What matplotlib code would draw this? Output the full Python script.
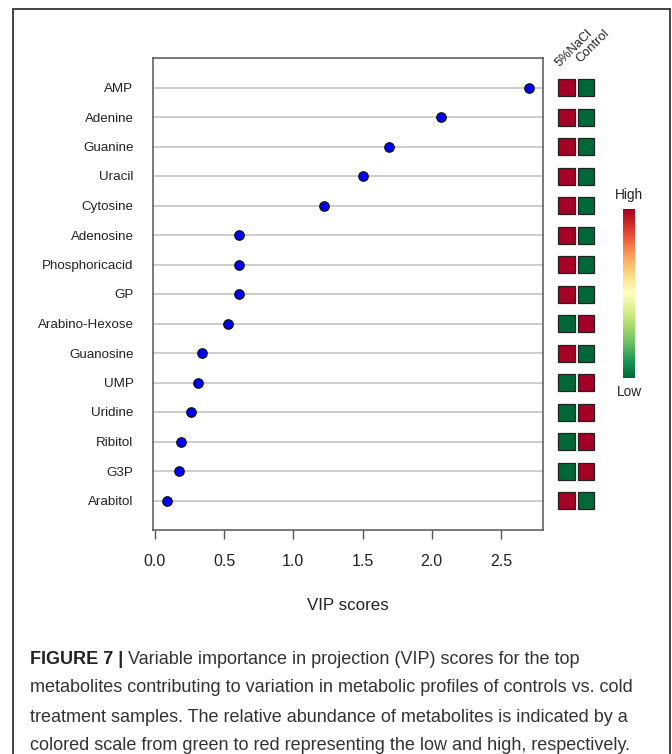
import numpy as np
import matplotlib
matplotlib.use('Agg')
import matplotlib.pyplot as plt
from matplotlib.patches import Rectangle

plt.rcParams['font.family'] = ['Liberation Sans', 'DejaVu Sans']

# VIP scores, top metabolite first
metabolites = ['AMP', 'Adenine', 'Guanine', 'Uracil', 'Cytosine', 'Adenosine',
               'Phosphoricacid', 'GP', 'Arabino-Hexose', 'Guanosine', 'UMP',
               'Uridine', 'Ribitol', 'G3P', 'Arabitol']
vip = [2.70, 2.07, 1.69, 1.50, 1.22, 0.61, 0.61, 0.61, 0.53, 0.34, 0.31,
       0.26, 0.19, 0.17, 0.09]

# relative abundance (1 = high, 0 = low) per group
groups = ['5%NaCl', 'Control']
nacl = [1, 1, 1, 1, 1, 1, 1, 1, 0, 1, 0, 0, 0, 0, 1]
control = [0, 0, 0, 0, 0, 0, 0, 0, 1, 0, 1, 1, 1, 1, 0]

xticks = [0.0, 0.5, 1.0, 1.5, 2.0, 2.5]
caption_bold = 'FIGURE 7 |'
caption_lines = [
    ' Variable importance in projection (VIP) scores for the top',
    'metabolites contributing to variation in metabolic profiles of controls vs. cold',
    'treatment samples. The relative abundance of metabolites is indicated by a',
    'colored scale from green to red representing the low and high, respectively.',
]

W, H = 672, 754
fig = plt.figure(figsize=(W / 100, H / 100), dpi=100)


def px_axes(x0, y0, x1, y1):
    # axes placed by pixel box (top-left origin)
    return fig.add_axes([x0 / W, 1 - y1 / H, (x1 - x0) / W, (y1 - y0) / H])


def px_text(x, y, s, **kw):
    return fig.text(x / W, 1 - y / H, s, **kw)


cmap = plt.get_cmap('RdYlGn_r')
n = len(metabolites)
rows = np.arange(1, n + 1)

# dot plot
ax = px_axes(153, 58, 543, 530)
lo, hi = min(vip), max(vip)
pad = 0.04 * (hi - lo)
ax.set_xlim(lo - pad, hi + pad)
ax.set_ylim(n + 1, 0)
for r in rows:
    ax.axhline(r, color='#c8c8c8', lw=1.3, zorder=1)
ax.plot(vip, rows, 'o', ms=6.8, mfc='#0000ff', mec='#111111', mew=0.9, zorder=3)
ax.set_yticks(rows)
ax.set_yticklabels(metabolites, fontsize=9.6, color='#222222')
ax.tick_params(axis='y', length=0, pad=14)
ax.set_xticks(xticks)
ax.set_xticklabels(['%.1f' % t for t in xticks], fontsize=11.5, color='#222222')
ax.tick_params(axis='x', length=6.5, width=1, color='#555555', pad=11)
for s in ax.spines.values():
    s.set_color('#555555')
    s.set_linewidth(1.1)
px_text(348, 606, 'VIP scores', fontsize=12.2, ha='center', va='center',
        color='#222222')

# abundance squares
hm = px_axes(557, 58, 595.6, 530)
hm.set_xlim(0, 2)
hm.set_ylim(n + 1, 0)
hm.axis('off')
sw, sh = 0.86, 17 / 29.5
for j, col in enumerate([nacl, control]):
    for r, v in zip(rows, col):
        hm.add_patch(Rectangle((j + 0.5 - sw / 2, r - sh / 2), sw, sh,
                               facecolor=cmap(float(v)), edgecolor='#222222',
                               lw=0.9))
for x0, y0, g in zip([560, 580], [67, 63], groups):
    px_text(x0, y0, g, rotation=45, rotation_mode='anchor', ha='left',
            va='baseline', fontsize=9.3, color='#222222')

# colour key
cb = px_axes(623, 209, 635, 378)
cb.imshow(np.linspace(0, 1, 256).reshape(-1, 1), cmap=cmap, aspect='auto',
          origin='lower')
cb.axis('off')
px_text(629, 195, 'High', fontsize=9.8, ha='center', va='center',
        color='#222222')
px_text(629, 392, 'Low', fontsize=9.8, ha='center', va='center',
        color='#222222')

# caption
line_y = [660, 688, 717, 745]
t0 = px_text(30, line_y[0], caption_bold, fontsize=13, fontweight='bold',
             va='center', color='#222222')
fig.canvas.draw()
bb = t0.get_window_extent()
fig.text(bb.x1 / W, 1 - line_y[0] / H, caption_lines[0], fontsize=13,
         va='center', color='#333333')
for yl, txt in zip(line_y[1:], caption_lines[1:]):
    px_text(30, yl, txt, fontsize=13, va='center', color='#333333')

# page frame (open at the bottom)
frame = dict(color='#444444', lw=1.4)
fig.add_artist(plt.Line2D([13 / W, 13 / W], [0, 1 - 9 / H], **frame))
fig.add_artist(plt.Line2D([13 / W, 670 / W], [1 - 9 / H, 1 - 9 / H], **frame))
fig.add_artist(plt.Line2D([670 / W, 670 / W], [0, 1 - 9 / H], **frame))

fig.savefig('out.png', dpi=100)
